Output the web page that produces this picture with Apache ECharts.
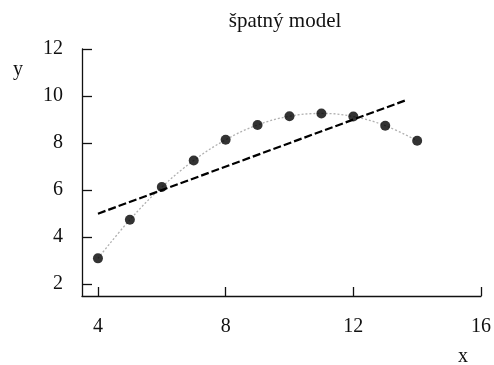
<!DOCTYPE html>
<html>
<head>
<meta charset="utf-8">
<script src="https://cdn.jsdelivr.net/npm/echarts@6/dist/echarts.min.js"></script>
<style>
  html, body { margin: 0; padding: 0; background: #fff; }
  #chart { width: 494px; height: 365px; }
</style>
</head>
<body>
<div id="chart"></div>
<script>
// Observed data
const xValues = [4, 5, 6, 7, 8, 9, 10, 11, 12, 13, 14];
const yValues = [3.10, 4.74, 6.13, 7.26, 8.14, 8.77, 9.14, 9.26, 9.13, 8.74, 8.10];
// Linear model: endpoints of the fitted straight line
const lineX = [4, 13.7];
const lineY = [5.0, 9.85];
// Quadratic model: fitted values at each x
const curveY = [3.10, 4.74, 6.13, 7.26, 8.14, 8.77, 9.14, 9.26, 9.13, 8.74, 8.10];
// Axis ticks
const xTicks = [4, 8, 12, 16];
const yTicks = [2, 4, 6, 8, 10, 12];

const FONT = '"Liberation Serif", "DejaVu Serif", serif';

const chart = echarts.init(document.getElementById('chart'), null, { renderer: 'canvas' });

chart.setOption({
  animation: false,
  backgroundColor: '#ffffff',
  title: {
    text: 'špatný model',
    left: 280,
    top: 6,
    textAlign: 'center',
    textStyle: { fontFamily: FONT, fontSize: 21, fontWeight: 'normal', color: '#111' }
  },
  grid: { left: 82, right: 10, top: 49, bottom: 69 },
  xAxis: {
    type: 'value',
    min: 3.5,
    max: 16,
    splitLine: { show: false },
    axisLine: { show: true, onZero: false, lineStyle: { color: '#111', width: 1.3 } },
    axisTick: { show: true, inside: true, length: 9, customValues: xTicks, lineStyle: { color: '#111', width: 1.3 } },
    axisLabel: { customValues: xTicks, margin: 21, fontFamily: FONT, fontSize: 20, color: '#111' }
  },
  yAxis: {
    type: 'value',
    min: 1.5,
    max: 12,
    splitLine: { show: false },
    axisLine: { show: true, onZero: false, lineStyle: { color: '#111', width: 1.3 } },
    axisTick: { show: true, inside: true, length: 10, customValues: yTicks, lineStyle: { color: '#111', width: 1.3 } },
    axisLabel: { customValues: yTicks, margin: 19, fontFamily: FONT, fontSize: 20, color: '#111' }
  },
  graphic: [
    { type: 'text', left: 13, top: 60, style: { text: 'y', font: '20px ' + FONT, fill: '#111' } },
    { type: 'text', left: 458, top: 347, style: { text: 'x', font: '20px ' + FONT, fill: '#111' } }
  ],
  series: [
    {
      name: 'kvadratický',
      type: 'line',
      smooth: 0.4,
      symbol: 'none',
      data: xValues.map((x, i) => [x, curveY[i]]),
      lineStyle: { color: '#b0b0b0', width: 1.3, type: [2, 2] },
      z: 1
    },
    {
      name: 'lineární',
      type: 'line',
      symbol: 'none',
      data: lineX.map((x, i) => [x, lineY[i]]),
      lineStyle: { color: '#000', width: 2.2, type: [8, 3] },
      z: 2
    },
    {
      name: 'data',
      type: 'scatter',
      symbol: 'circle',
      symbolSize: 10,
      data: xValues.map((x, i) => [x, yValues[i]]),
      itemStyle: { color: '#000' },
      z: 3
    }
  ]
});
</script>
</body>
</html>
